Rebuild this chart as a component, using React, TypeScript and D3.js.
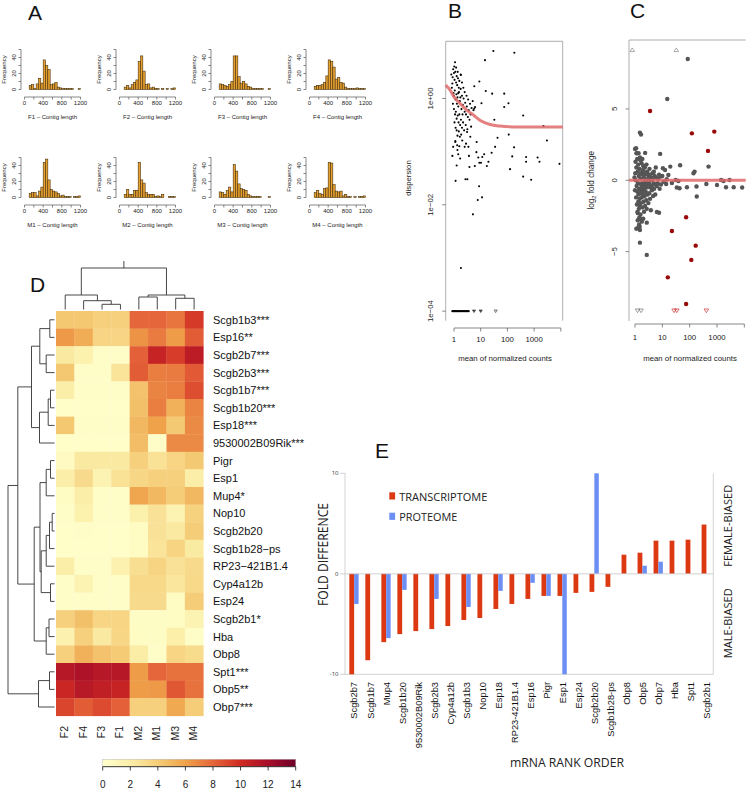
import React from "react";
import * as d3 from "d3";

const FONT = "'Liberation Sans', Arial, Helvetica, sans-serif";
const FONT_E = "'Open Sans', 'Liberation Sans', Arial, sans-serif";

// ---------------- Panel A : contig length histograms ----------------
const histSamples = ["F1", "F2", "F3", "F4", "M1", "M2", "M3", "M4"];
const histBinStart = 100;
const histBinWidth = 50;
const histF1 = [5, 6, 1, 7, 14, 8, 37, 30, 25, 6, 7, 9, 3, 2, 1, 1, 1, 1, 1, 0, 0, 1];
const histF2 = [3, 5, 2, 6, 9, 12, 35, 42, 23, 6, 7, 2, 3, 1, 1, 0, 1, 0, 1, 0, 1, 2];
const histF3 = [7, 6, 5, 4, 6, 10, 42, 42, 16, 8, 10, 7, 4, 3, 1, 1, 1, 1, 1, 0, 0, 1];
const histF4 = [4, 5, 5, 6, 9, 17, 37, 35, 28, 13, 15, 9, 8, 3, 1, 1, 1, 1, 2, 1, 1, 1];
const histM1 = [5, 6, 6, 2, 8, 13, 44, 48, 22, 10, 8, 7, 5, 2, 3, 1, 1, 1, 0, 1, 1, 2];
const histM2 = [4, 10, 4, 4, 9, 9, 44, 22, 18, 6, 4, 4, 4, 1, 2, 1, 4, 0, 0, 1, 1, 1];
const histM3 = [7, 6, 4, 9, 13, 7, 41, 33, 17, 11, 10, 9, 4, 2, 1, 1, 1, 1, 0, 0, 0, 1];
const histM4 = [6, 9, 5, 4, 11, 12, 44, 43, 16, 8, 7, 8, 2, 4, 1, 1, 0, 1, 0, 1, 1, 2];
const histCounts = [histF1, histF2, histF3, histF4, histM1, histM2, histM3, histM4];
const histXTicks = [0, 200, 400, 600, 800, 1000, 1200];
const histXLabels = [0, 400, 800, 1200];
const histYTicks = [0, 10, 20, 30, 40, 50];
const histYLabels = [0, 20, 40];

// ---------------- Panel B : dispersion estimates (log10 mean, log10 dispersion) ----------------
const dispPoints: [number, number][] = [
  [1.475, 0.893], [2.26, 0.86], [1.16, 0.72], [0.95, 0.32], [0.76, 0.23], [0.26, 0.44], [1.19, 0.14],
  [1.43, 0.09], [1.88, 0.09], [2.04, -0.09], [1.88, -0.16], [1.03, -0.09], [0.79, -0.16], [2.59, -0.32],
  [1.51, -0.4], [3.35, -0.52], [3.48, -0.79], [2.05, -0.68], [1.63, -0.74], [1.54, -0.91], [2.25, -0.92],
  [2.18, -1.09], [2.7, -1.1], [2.7, -1.19], [3.13, -1.11], [3.2, -1.19], [3.95, -1.23], [2.59, -1.47],
  [2.89, -1.53], [2.1, -1.33], [1.41, -1.02], [1.29, -1.19], [1.23, -1.27], [1.01, -1.21], [0.95, -1.21],
  [1.06, -1.1], [1.13, -1.05], [0.91, -1.11], [0.84, -1.01], [0.85, -0.82], [0.56, -1.08], [0.78, -1.27],
  [0.58, -1.29], [0.5, -1.52], [0.43, -1.52], [0.06, -1.55], [0.94, -1.65], [0.89, -1.91], [1.05, -1.86],
  [0.71, -2.18], [0.26, -3.19], [0.61, -0.72], [0.54, -0.91], [0.73, -0.22], [0.76, -0.19], [0.64, -0.53],
  [0.49, -0.63], [0.45, -0.85], [0.4, -0.91], [0.31, -0.79], [0.23, -1.13], [0.16, -1.05], [0.1, -1.26],
  [0.13, -0.97], [-0.06, -1.08], [-0.03, -0.91], [0.05, -0.82],
  [-0.1, 0.45], [-0.05, 0.4], [0.0, 0.48], [0.02, 0.35], [0.05, 0.5], [0.08, 0.3], [0.1, 0.42], [0.12, 0.25],
  [0.15, 0.38], [0.18, 0.2], [0.2, 0.33], [-0.08, 0.2], [-0.02, 0.1], [0.0, 0.05], [0.03, 0.15], [0.06, -0.02],
  [0.09, 0.08], [0.11, -0.1], [0.13, 0.02], [0.16, -0.15], [0.19, 0.12], [0.22, -0.05], [0.25, 0.18],
  [0.28, -0.2], [0.3, 0.05], [0.33, -0.12], [0.36, 0.0], [0.4, -0.25], [0.42, -0.08], [0.45, -0.3],
  [0.48, -0.15], [0.52, -0.35], [0.55, -0.22], [0.58, -0.4], [0.62, -0.3], [0.0, -0.2], [0.04, -0.3],
  [0.07, -0.25], [0.1, -0.38], [0.14, -0.32], [0.17, -0.45], [0.2, -0.3], [0.23, -0.5], [0.26, -0.4],
  [0.3, -0.55], [0.34, -0.45], [0.38, -0.6], [0.44, -0.5], [0.5, -0.58], [0.02, -0.45], [0.06, -0.55],
  [0.1, -0.6], [0.13, -0.7], [0.18, -0.62], [0.22, -0.72], [0.27, -0.68], [-0.04, -0.1], [-0.06, 0.28],
  [0.01, 0.6], [0.04, 0.68], [-0.03, 0.55], [0.08, 0.58], [0.14, 0.5], [0.25, 0.45], [0.3, 0.3], [0.35, 0.2],
  [0.4, 0.12], [0.47, 0.05], [0.53, -0.02], [0.6, -0.1], [0.66, -0.18], [0.7, -0.05], [0.16, 0.1],
  [0.24, 0.02], [0.32, -0.3], [0.05, -0.8], [0.12, -0.88], [0.2, -0.9],
];
const dispFloorMeans = [-0.06, -0.02, 0.02, 0.06, 0.1, 0.14, 0.18, 0.22, 0.26, 0.3, 0.34, 0.38, 0.42, 0.46, 0.5, 0.55];
const dispFloorTriangles = [0.75, 1.0, 1.56];
const dispFloor = -4;
const dispFit: [number, number][] = [
  [-0.31, 0.25], [-0.15, 0.16], [0, 0.03], [0.225, -0.094], [0.475, -0.22], [0.725, -0.31], [1.0, -0.42],
  [1.35, -0.49], [1.725, -0.52], [2.225, -0.535], [4.075, -0.535],
];
const dispYTicks = [0, -2, -4];
const dispYLabels = ["1e+00", "1e\u221202", "1e\u221204"];
const logMeanTicks = [0, 1, 2, 3, 4];
const logMeanLabels = ["1", "10", "100", "1000", ""];

// ---------------- Panel C : MA plot (log10 mean, log2 fold change) ----------------
const maSignificant: [number, number][] = [
  [0.55, 4.86], [2.08, 3.29], [2.9, 3.41], [2.67, 2.06], [1.87, -2.59], [1.35, -3.55], [2.22, -4.58],
  [2.06, -5.58], [1.2, -6.8], [1.87, -8.67],
];
const maOther: [number, number][] = [
  [1.93, 8.5], [1.18, 5.7], [0.18, 3.34], [0.22, 3.2], [0.04, 2.24], [0.0, 2.2], [0.37, 1.92], [0.92, 1.85],
  [0.06, 1.89], [2.69, 0.96], [1.65, 1.05], [2.18, 0.61], [2.14, 0.49], [2.25, -0.44], [2.61, -0.26],
  [3.0, -0.33], [3.15, 0.02], [3.24, -0.05], [3.33, -0.49], [3.46, 0.02], [3.61, -0.49], [3.92, -0.51],
  [1.9, -0.49], [1.59, -0.05], [1.49, 0.02], [1.53, -0.51], [1.63, -0.56], [1.14, -0.26], [1.16, 0.07],
  [1.35, -0.19], [2.26, -1.14], [0.43, -2.97], [0.8, -2.22], [0.88, -2.27], [0.18, -4.37], [0.43, -5.23],
  [0.21, -2.73], [0.18, -3.48], [0.17, -3.25], [0.09, -2.22], [1.29, 0.96], [1.1, 0.72], [1.22, 0.37],
  [1.02, 0.84], [0.94, 0.26],
  [0.02, 1.3], [0.05, 0.9], [0.08, 1.5], [0.1, 0.6], [0.12, 1.1], [0.14, 0.3], [0.16, 0.8], [0.18, 1.6],
  [0.2, 0.1], [0.22, 0.5], [0.24, 1.2], [0.26, -0.2], [0.28, 0.7], [0.3, 1.0], [0.32, 0.2], [0.34, -0.4],
  [0.36, 0.9], [0.38, 0.4], [0.4, -0.1], [0.42, 1.1], [0.45, 0.6], [0.48, -0.3], [0.5, 0.3], [0.53, 0.8],
  [0.56, -0.5], [0.6, 0.2], [0.64, 0.5], [0.68, -0.2], [0.72, 0.3], [0.76, 0.9], [0.8, -0.4], [0.85, 0.1],
  [0.9, -0.6], [0.03, 0.0], [0.06, -0.4], [0.09, -0.8], [0.11, -0.2], [0.13, -1.0], [0.15, -0.6],
  [0.17, -1.3], [0.19, -0.9], [0.21, -1.6], [0.23, -0.7], [0.25, -1.2], [0.27, -1.9], [0.29, -1.0],
  [0.31, -1.5], [0.33, -2.2], [0.35, -1.1], [0.37, -1.8], [0.39, -0.8], [0.41, -1.4], [0.43, -2.0],
  [0.46, -1.0], [0.49, -1.6], [0.52, -0.9], [0.55, -1.3], [0.58, -2.1], [0.62, -0.7], [0.66, -1.1],
  [0.7, -0.6], [0.74, -1.0], [0.04, -1.2], [0.07, -1.7], [0.1, -2.3], [0.12, -1.5], [0.14, -2.0],
  [0.16, -2.6], [0.18, -1.8], [0.2, -2.4], [0.22, -0.3], [0.24, -0.5], [0.26, 0.4], [0.28, -0.8],
  [0.3, -0.3], [0.32, 0.6], [0.34, -0.6], [0.36, -0.2], [0.38, 0.0], [0.4, 0.5], [0.43, -0.5], [0.47, 0.1],
  [0.51, -0.2], [0.54, 0.4], [0.57, 0.0], [0.61, -0.4], [0.65, 0.1], [0.69, 0.6], [0.73, -0.3], [0.78, 0.2],
  [0.83, -0.2], [0.88, 0.4], [0.95, -0.3], [1.0, 0.3], [1.05, -0.1], [0.01, 0.5], [0.0, -0.7], [-0.02, 0.2],
  [0.06, 1.9], [0.13, 1.9], [0.2, 1.4], [0.27, 1.5], [0.1, -2.8], [0.15, -3.1], [0.25, -2.9], [0.3, -2.7],
  [0.12, -3.3], [0.05, -3.4],
];
const maUpClipped = [-0.1, 1.51];
const maDownClipped = [0.09, 0.22];
const maDownClippedSig = [1.43, 1.53, 2.61];
const maClip = 9.13;
const maYTicks = [-5, 0, 5];
const maYLabels = ["\u22125", "0", "5"];

// ---------------- Panel D : heatmap ----------------
const heatSamples = ["F2", "F4", "F3", "F1", "M2", "M1", "M3", "M4"];
const heatGenes = [
  "Scgb1b3***", "Esp16**", "Scgb2b7***", "Scgb2b3***", "Scgb1b7***", "Scgb1b20***", "Esp18***",
  "9530002B09Rik***", "Pigr", "Esp1", "Mup4*", "Nop10", "Scgb2b20", "Scgb1b28\u2212ps", "RP23\u2212421B1.4",
  "Cyp4a12b", "Esp24", "Scgb2b1*", "Hba", "Obp8", "Spt1***", "Obp5**", "Obp7***",
];
const heatValues = [
  [4.3, 4.3, 3.8, 3.8, 8.0, 8.0, 7.5, 9.5],
  [6.3, 5.5, 3.5, 3.5, 6.5, 7.3, 6.2, 8.3],
  [2.3, 1.7, 0.3, 0.3, 8.2, 10.5, 9.4, 11.0],
  [4.3, 0.3, 0.3, 2.6, 8.3, 7.2, 7.3, 8.4],
  [2.0, 0.3, 0.3, 0.3, 4.5, 7.0, 7.2, 8.8],
  [0.2, 0.2, 0.2, 0.2, 4.6, 7.2, 5.3, 7.0],
  [4.3, 0.3, 0.3, 0.3, 5.0, 6.0, 4.2, 6.8],
  [0.2, 0.2, 0.2, 0.2, 4.8, 0.3, 6.8, 6.8],
  [0.6, 2.3, 2.3, 2.3, 3.8, 2.8, 3.5, 4.2],
  [2.0, 3.2, 1.5, 2.8, 3.4, 3.8, 3.8, 2.0],
  [0.5, 2.0, 0.3, 0.3, 5.8, 5.0, 4.0, 5.0],
  [0.3, 1.7, 0.3, 0.3, 1.8, 2.7, 1.5, 3.7],
  [0.2, 0.3, 0.2, 0.2, 0.5, 2.7, 2.3, 4.0],
  [0.2, 0.2, 0.2, 0.2, 0.5, 2.6, 3.6, 2.2],
  [2.0, 0.3, 0.3, 1.6, 3.0, 3.6, 2.7, 3.2],
  [0.3, 1.4, 0.3, 0.3, 3.3, 3.3, 2.5, 3.3],
  [0.3, 0.3, 0.3, 0.3, 3.2, 3.2, 0.5, 4.0],
  [3.8, 4.6, 3.5, 3.5, 0.4, 0.4, 0.5, 1.5],
  [1.6, 3.8, 2.3, 3.4, 0.5, 0.4, 1.9, 0.3],
  [3.8, 5.3, 4.5, 4.1, 2.1, 0.3, 3.5, 3.1],
  [11.3, 11.7, 11.3, 11.3, 6.2, 8.0, 7.6, 7.6],
  [10.3, 11.2, 10.8, 10.5, 6.2, 6.3, 8.5, 7.6],
  [9.1, 8.3, 8.9, 8.2, 3.8, 3.8, 5.7, 4.0],
];
const heatColorStops = [0, 2, 4, 6, 8, 10, 12, 14];
const heatColors = ["#ffffcc", "#fbeea8", "#f5cd78", "#efa24a", "#e5663a", "#d02a22", "#a80e2a", "#6e0028"];
const heatLegendTicks = [0, 2, 4, 6, 8, 10, 12, 14];
// hclust-style merges: negative = leaf (1-based), positive = earlier merge; third value = height
const rowMerges: [number, number, number][] = [
  [-1, -2, 4.7], [-3, -4, 8.3], [1, 2, 14.7], [-5, -6, 4], [4, -7, 6.3], [5, -8, 15], [3, 6, 23],
  [-9, -10, 4], [8, -11, 8.3], [-12, -13, 2.3], [10, -14, 5], [11, -15, 8.3], [-16, -17, 4], [12, 13, 13.3],
  [9, 14, 14.5], [-18, -19, 5.5], [16, -20, 8.3], [15, 17, 20.3], [7, 18, 36.7], [-21, -22, 5],
  [20, -23, 16], [19, 21, 46.5],
];
const colMerges: [number, number, number][] = [
  [-3, -4, 5.2], [-2, 1, 8.8], [-1, 2, 14.5], [-5, -6, 12.5], [-7, -8, 11.2], [4, 5, 14.5], [3, 6, 41.5],
];

// ---------------- Panel E : fold differences ----------------
const eGenes = [
  "Scgb2b7", "Scgb1b7", "Mup4", "Scgb1b20", "9530002B09Rik", "Scgb2b3", "Cyp4a12b", "Scgb1b3", "Nop10",
  "Esp18", "RP23-421B1.4", "Esp16", "Pigr", "Esp1", "Esp24", "Scgb2b20", "Scgb1b28-ps", "Obp8", "Obp5",
  "Obp7", "Hba", "Spt1", "Scgb2b1",
];
const eTranscriptome = [
  -10, -8.6, -6.8, -6.0, -5.7, -5.5, -5.2, -4.6, -4.4, -3.5, -3.0, -2.5, -2.2, -2.2, -1.9, -1.8, -1.3,
  1.9, 2.1, 3.3, 3.3, 3.4, 4.9,
];
const eProteome: (number | null)[] = [
  -3.0, null, -6.4, -1.6, null, -2.5, null, -3.3, null, -1.7, null, -0.9, -2.2, -10, null, 10, null,
  null, 0.8, 1.2, null, null, null,
];
const eYTicks = [10, 0, -10];
const eSeries = ["TRANSCRIPTOME", "PROTEOME"];
const eColors = ["#dc3912", "#6d8ff4"];

type Seg = { x1: number; y1: number; x2: number; y2: number };

function dendro(
  merges: [number, number, number][],
  leafPos: (i: number) => number,
  base: number,
  scale: number,
  vertical: boolean
) {
  const pos: number[] = [];
  const hts: number[] = [];
  const segs: Seg[] = [];
  const get = (id: number) => (id < 0 ? { p: leafPos(-id - 1), h: 0 } : { p: pos[id - 1], h: hts[id - 1] });
  merges.forEach(([a, b, h], i) => {
    const A = get(a);
    const B = get(b);
    pos[i] = (A.p + B.p) / 2;
    hts[i] = h;
    const c = base - h * scale;
    const ca = base - A.h * scale;
    const cb = base - B.h * scale;
    if (vertical) {
      // column dendrogram: heights on y
      segs.push({ x1: A.p, y1: c, x2: B.p, y2: c });
      segs.push({ x1: A.p, y1: c, x2: A.p, y2: ca });
      segs.push({ x1: B.p, y1: c, x2: B.p, y2: cb });
    } else {
      segs.push({ x1: c, y1: A.p, x2: c, y2: B.p });
      segs.push({ x1: c, y1: A.p, x2: ca, y2: A.p });
      segs.push({ x1: c, y1: B.p, x2: cb, y2: B.p });
    }
  });
  return { segs, rootPos: pos[pos.length - 1], rootH: hts[hts.length - 1] };
}

function RotText(props: { x: number; y: number; anchor?: string; size: number; children: any; fill?: string; family?: string; textLength?: number }) {
  const { x, y, anchor = "middle", size, children, fill = "#222", family = FONT, textLength } = props;
  return (
    <text
      transform={`translate(${x},${y}) rotate(-90)`}
      textAnchor={anchor}
      fontSize={size}
      fill={fill}
      fontFamily={family}
      textLength={textLength}
      lengthAdjust={textLength ? "spacingAndGlyphs" : undefined}
    >
      {children}
    </text>
  );
}

function PanelA() {
  const out: any[] = [];
  histSamples.forEach((name, i) => {
    const row = i < 4 ? 0 : 1;
    const col = i % 4;
    const axX = 21 + col * 95;
    const yBase = 89.5 + row * 108;
    const x = d3.scaleLinear().domain([0, 1200]).range([axX + 3.5, axX + 3.5 + 56]);
    const y = d3.scaleLinear().domain([0, 50]).range([yBase, yBase - 40]);
    const counts = histCounts[i];
    out.push(
      <g key={name}>
        {counts.map((c, k) => {
          const x0 = x(histBinStart + k * histBinWidth);
          const x1 = x(histBinStart + (k + 1) * histBinWidth);
          return (
            <rect key={k} x={x0} y={y(c)} width={x1 - x0} height={y(0) - y(c)}
              fill="#e6a030" stroke="#3d2806" strokeWidth={0.55} />
          );
        })}
        <line x1={axX} x2={axX} y1={y(0)} y2={y(50)} stroke="#555" strokeWidth={0.7} />
        {histYTicks.map((t) => (
          <line key={t} x1={axX - 2.5} x2={axX} y1={y(t)} y2={y(t)} stroke="#555" strokeWidth={0.7} />
        ))}
        {histYLabels.map((t) => (
          <RotText key={t} x={axX - 5.5} y={y(t)} size={6}>{t}</RotText>
        ))}
        <RotText x={axX - 15.5} y={yBase - 20} size={6}>Frequency</RotText>
        <line x1={x(0)} x2={x(1200)} y1={yBase + 7.5} y2={yBase + 7.5} stroke="#555" strokeWidth={0.7} />
        {histXTicks.map((t) => (
          <line key={t} x1={x(t)} x2={x(t)} y1={yBase + 7.5} y2={yBase + 10} stroke="#555" strokeWidth={0.7} />
        ))}
        {histXLabels.map((t) => (
          <text key={t} x={x(t)} y={yBase + 15.5} fontSize={6} textAnchor="middle" fontFamily={FONT} fill="#222">{t}</text>
        ))}
        <text x={x(600)} y={yBase + 29} fontSize={6} textAnchor="middle" fontFamily={FONT} fill="#222">
          {name} – Contig length
        </text>
      </g>
    );
  });
  return <g>{out}</g>;
}

function Tri({ x, y, down, stroke, s = 2.6, fill = "none" }: { x: number; y: number; down: boolean; stroke: string; s?: number; fill?: string }) {
  const pts = down
    ? `${x - s},${y - s * 0.7} ${x + s},${y - s * 0.7} ${x},${y + s * 0.9}`
    : `${x - s},${y + s * 0.7} ${x + s},${y + s * 0.7} ${x},${y - s * 0.9}`;
  return <polygon points={pts} fill={fill} stroke={stroke} strokeWidth={0.7} />;
}

function PanelB() {
  const x = d3.scaleLinear().domain([-0.31, 4.07]).range([445.7, 562.7]);
  const y = d3.scaleLinear().domain([-4.18, 1.075]).range([320.7, 41.3]);
  const line = d3.line<[number, number]>().x((d) => x(d[0])).y((d) => y(d[1])).curve(d3.curveMonotoneX);
  return (
    <g>
      <path d={`M${x(-0.31)},${y(-4.18)} V${y(1.075)} H${x(4.07)} V${y(-4.18)}`} fill="none" stroke="#999" strokeWidth={0.8} />
      {dispPoints.map((d, i) => (
        <circle key={i} cx={x(d[0])} cy={y(d[1])} r={1.05} fill="#000" />
      ))}
      {dispFloorMeans.map((m, i) => (
        <circle key={"f" + i} cx={x(m)} cy={y(dispFloor)} r={1.1} fill="#000" />
      ))}
      {dispFloorTriangles.map((m, i) => (
        <Tri key={"t" + i} x={x(m)} y={y(dispFloor)} down={true} stroke="#444" s={1.6} fill={i < 2 ? "#444" : "none"} />
      ))}
      <path d={line(dispFit) || ""} fill="none" stroke="#e06a6a" strokeOpacity={0.85} strokeWidth={3} />
      {dispYTicks.map((t, i) => (
        <g key={t}>
          <line x1={x(-0.31) - 3.5} x2={x(-0.31)} y1={y(t)} y2={y(t)} stroke="#555" strokeWidth={0.7} />
          <RotText x={433} y={y(t)} size={7.8}>{dispYLabels[i]}</RotText>
        </g>
      ))}
      <RotText x={411} y={178} size={7.8}>dispersion</RotText>
      <line x1={x(0)} x2={x(4)} y1={328} y2={328} stroke="#555" strokeWidth={0.7} />
      {logMeanTicks.map((t, i) => (
        <g key={t}>
          <line x1={x(t)} x2={x(t)} y1={328} y2={331.5} stroke="#555" strokeWidth={0.7} />
          <text x={x(t)} y={342} fontSize={7.8} textAnchor="middle" fontFamily={FONT} fill="#222">{logMeanLabels[i]}</text>
        </g>
      ))}
      <text x={505} y={361} fontSize={7.8} textAnchor="middle" fontFamily={FONT} fill="#222">mean of normalized counts</text>
    </g>
  );
}

function PanelC() {
  const x = d3.scaleLinear().domain([-0.22, 4.05]).range([629, 745.7]);
  const y = d3.scaleLinear().domain([-9.86, 9.83]).range([321, 40]);
  return (
    <g>
      <path d={`M${x(-0.22)},${y(-9.86)} V${y(9.83)} H${x(4.05)}`} fill="none" stroke="#999" strokeWidth={0.8} />
      {maOther.map((d, i) => (
        <circle key={i} cx={x(d[0])} cy={y(d[1])} r={2.2} fill="#555" />
      ))}
      {maSignificant.map((d, i) => (
        <circle key={"s" + i} cx={x(d[0])} cy={y(d[1])} r={2.2} fill="#990a0a" />
      ))}
      {maUpClipped.map((m, i) => (
        <Tri key={"u" + i} x={x(m)} y={y(maClip)} down={false} stroke="#888" s={2.3} />
      ))}
      {maDownClipped.map((m, i) => (
        <Tri key={"d" + i} x={x(m)} y={y(-maClip)} down={true} stroke="#777" s={2.3} />
      ))}
      {maDownClippedSig.map((m, i) => (
        <Tri key={"r" + i} x={x(m)} y={y(-maClip)} down={true} stroke="#c83030" s={2.3} />
      ))}
      <line x1={x(-0.22)} x2={x(4.05)} y1={y(0)} y2={y(0)} stroke="#e06a6a" strokeOpacity={0.85} strokeWidth={3} />
      {maYTicks.map((t, i) => (
        <g key={t}>
          <line x1={x(-0.22) - 3.5} x2={x(-0.22)} y1={y(t)} y2={y(t)} stroke="#555" strokeWidth={0.7} />
          <RotText x={617} y={y(t)} size={7.8}>{maYLabels[i]}</RotText>
        </g>
      ))}
      <text transform={`translate(594,${y(0)}) rotate(-90)`} textAnchor="middle" fontSize={8.2} fontFamily={FONT} fill="#222">
        log<tspan fontSize={5.5} dy={2}>2</tspan><tspan dy={-2}> fold change</tspan>
      </text>
      <line x1={x(0)} x2={x(4)} y1={324} y2={324} stroke="#555" strokeWidth={0.7} />
      {logMeanTicks.map((t, i) => (
        <g key={t}>
          <line x1={x(t)} x2={x(t)} y1={324} y2={327.5} stroke="#555" strokeWidth={0.7} />
          <text x={x(t)} y={340} fontSize={7.8} textAnchor="middle" fontFamily={FONT} fill="#222">{logMeanLabels[i]}</text>
        </g>
      ))}
      <text x={690} y={361} fontSize={7.8} textAnchor="middle" fontFamily={FONT} fill="#222">mean of normalized counts</text>
    </g>
  );
}

function PanelD() {
  const left = 56, right = 203.3, top = 311, rowH = 17.6;
  const xb = d3.scaleBand<number>().domain(d3.range(heatSamples.length)).range([left, right]);
  const yb = d3.scaleBand<number>().domain(d3.range(heatGenes.length)).range([top, top + rowH * heatGenes.length]);
  const color = d3.scaleLinear<string>().domain(heatColorStops).range(heatColors).interpolate(d3.interpolateRgb);
  const rowD = dendro(rowMerges, (i) => (yb(i) as number) + yb.bandwidth() / 2, 54.5, 1, false);
  const colD = dendro(colMerges, (i) => (xb(i) as number) + xb.bandwidth() / 2, 309.5, 1, true);
  const lx = d3.scaleLinear().domain([0, 14]).range([102.7, 295.7]);
  return (
    <g>
      {heatValues.map((row, r) =>
        row.map((v, c) => (
          <rect key={r + "-" + c} x={xb(c)} y={yb(r)} width={xb.bandwidth() + 0.3} height={yb.bandwidth() + 0.3} fill={color(v)} />
        ))
      )}
      {heatGenes.map((g, r) => (
        <text key={g} x={213} y={(yb(r) as number) + yb.bandwidth() / 2 + 4} fontSize={11} fontFamily={FONT} fill="#111">{g}</text>
      ))}
      {heatSamples.map((s, c) => (
        <RotText key={s} x={(xb(c) as number) + xb.bandwidth() / 2 + 3} y={726} anchor="end" size={10.5}>{s}</RotText>
      ))}
      {rowD.segs.map((s, i) => (
        <line key={"r" + i} x1={s.x1} y1={s.y1} x2={s.x2} y2={s.y2} stroke="#333" strokeWidth={0.9} />
      ))}
      {colD.segs.map((s, i) => (
        <line key={"c" + i} x1={s.x1} y1={s.y1} x2={s.x2} y2={s.y2} stroke="#333" strokeWidth={0.9} />
      ))}
      <line x1={colD.rootPos} x2={colD.rootPos} y1={309.5 - colD.rootH} y2={261} stroke="#333" strokeWidth={0.9} />
      <defs>
        <linearGradient id="heatGrad" x1="0" x2="1" y1="0" y2="0">
          {heatColorStops.map((s, i) => (
            <stop key={s} offset={s / 14} stopColor={heatColors[i]} />
          ))}
        </linearGradient>
      </defs>
      <rect x={lx(0)} y={759.3} width={lx(14) - lx(0)} height={7.4} fill="url(#heatGrad)" stroke="#aaa" strokeWidth={0.4} />
      <line x1={lx(0)} x2={lx(14)} y1={766.7} y2={766.7} stroke="#111" strokeWidth={0.8} />
      {heatLegendTicks.map((t) => (
        <g key={t}>
          <line x1={lx(t)} x2={lx(t)} y1={766.7} y2={770.5} stroke="#111" strokeWidth={0.8} />
          <text x={lx(t)} y={788} fontSize={10} textAnchor="middle" fontFamily={FONT} fill="#222">{t}</text>
        </g>
      ))}
    </g>
  );
}

function PanelE() {
  const xb = d3.scaleBand<string>().domain(eGenes).range([345, 713.3]);
  const y = d3.scaleLinear().domain([-10, 10]).range([674.3, 473.3]);
  const bw = xb.bandwidth();
  return (
    <g>
      <line x1={345} x2={345} y1={y(10)} y2={y(-10)} stroke="#c8c8c8" strokeWidth={0.8} />
      <line x1={713.3} x2={713.3} y1={y(10)} y2={y(-10)} stroke="#c8c8c8" strokeWidth={0.8} />
      <line x1={345} x2={713.3} y1={y(-10)} y2={y(-10)} stroke="#c8c8c8" strokeWidth={0.8} />
      {eGenes.map((g, i) => {
        const b = xb(g) as number;
        const t = eTranscriptome[i];
        const p = eProteome[i];
        return (
          <g key={g}>
            <rect x={b + bw * 0.27} y={Math.min(y(t), y(0))} width={bw * 0.3} height={Math.abs(y(t) - y(0))} fill={eColors[0]} />
            {p !== null && (
              <rect x={b + bw * 0.57} y={Math.min(y(p), y(0))} width={bw * 0.28} height={Math.abs(y(p) - y(0))} fill={eColors[1]} />
            )}
            <RotText x={b + bw * 0.78} y={682} anchor="end" size={9.3} fill="#111">{g}</RotText>
          </g>
        );
      })}
      <line x1={345} x2={713.3} y1={y(0)} y2={y(0)} stroke="#c8c8c8" strokeWidth={0.8} />
      {eYTicks.map((t) => (
        <g key={t}>
          <line x1={340} x2={345} y1={y(t)} y2={y(t)} stroke="#c8c8c8" strokeWidth={0.8} />
          <text x={338.5} y={y(t) + 2} fontSize={6} textAnchor="end" fontFamily={FONT_E} fill="#333">{t}</text>
        </g>
      ))}
      {eSeries.map((s, i) => (
        <g key={s}>
          <rect x={389.3} y={492.3 + i * 20.4} width={5.8} height={7.2} fill={eColors[i]} />
          <text x={399.3} y={500.5 + i * 20.4} fontSize={11.5} fontFamily={FONT_E} fill="#222"
            textLength={i === 0 ? 88 : 58} lengthAdjust="spacingAndGlyphs">{s}</text>
        </g>
      ))}
      <RotText x={327.5} y={554.5} size={14} family={FONT_E} textLength={103}>FOLD DIFFERENCE</RotText>
      <RotText x={731.5} y={525.8} size={11.5} family={FONT_E} textLength={82}>FEMALE-BIASED</RotText>
      <RotText x={731.5} y={623.3} size={11.5} family={FONT_E} textLength={70}>MALE-BIASED</RotText>
      <text x={567} y={766.5} fontSize={13} textAnchor="middle" fontFamily={FONT_E} fill="#222"
        textLength={114} lengthAdjust="spacingAndGlyphs">mRNA RANK ORDER</text>
    </g>
  );
}

export default function App() {
  const label = (t: string, x: number, y: number) => (
    <text x={x} y={y} fontSize={21} fontFamily={FONT} fill="#111">{t}</text>
  );
  return (
    <svg width={746} height={789} viewBox="0 0 746 789"
      style={{ position: "absolute", left: 0, top: 0, background: "#fff" }}>
      <rect width={746} height={789} fill="#fff" />
      {label("A", 28, 20)}
      {label("B", 448, 18)}
      {label("C", 630, 18)}
      {label("D", 30, 292)}
      {label("E", 375, 458)}
      <PanelA />
      <PanelB />
      <PanelC />
      <PanelD />
      <PanelE />
    </svg>
  );
}
